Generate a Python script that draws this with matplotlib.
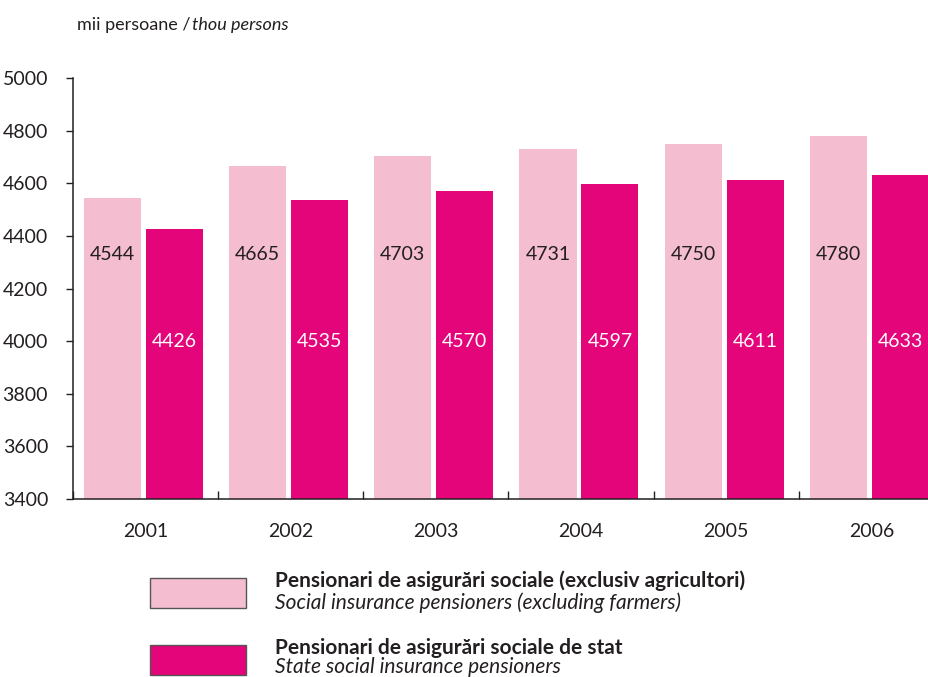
import numpy as np
import matplotlib
matplotlib.use("Agg")
import matplotlib.pyplot as plt
from matplotlib.patches import Rectangle

plt.rcParams['font.family'] = ['Lato', 'DejaVu Sans']

# date
years = ['2001', '2002', '2003', '2004', '2005', '2006']
excl_farmers = [4544, 4665, 4703, 4731, 4750, 4780]
state = [4426, 4535, 4570, 4597, 4611, 4633]

pink = '#F4BED0'
magenta = '#E4057A'
dark = '#231F20'

W, H = 929, 677
fig = plt.figure(figsize=(W / 100, H / 100), dpi=100)
# axa: stanga 73px, jos 499px, sus 78px
ax = fig.add_axes([73 / W, (H - 499) / H, (944 - 73) / W, (499 - 78) / H])

x = np.arange(len(years))
bw = 0.393
ax.bar(x - 0.228, excl_farmers, bw, color=pink)
ax.bar(x + 0.199, state, bw, color=magenta)

fs = 14
for i in range(len(years)):
    ax.text(x[i] - 0.228, 4330, str(excl_farmers[i]), ha='center', va='center',
            fontsize=fs, color=dark)
    ax.text(x[i] + 0.199, 4000, str(state[i]), ha='center', va='center',
            fontsize=fs, color='white')

ax.set_ylim(3400, 5000)
ax.set_xlim(-0.5, 5.5)
ax.set_yticks(np.arange(3400, 5001, 200))
ax.tick_params(axis='y', direction='out', length=5, width=1, color=dark,
               labelsize=fs, labelcolor=dark, pad=13)

# etichete ani + tick-uri intre categorii
ax.set_xticks(np.arange(-0.5, 6, 1))
ax.set_xticklabels([])
ax.tick_params(axis='x', direction='in', length=6, width=1, color=dark)
ax.set_xticks(x, minor=True)
ax.set_xticklabels(years, minor=True)
ax.tick_params(axis='x', which='minor', length=0, labelsize=fs,
               labelcolor=dark, pad=17)

for s in ['top', 'right']:
    ax.spines[s].set_visible(False)
for s in ['left', 'bottom']:
    ax.spines[s].set_color(dark)
    ax.spines[s].set_linewidth(1.1)

t1 = fig.text(77 / W, 1 - 25 / H, 'mii persoane / ', fontsize=13, color=dark,
              va='center', ha='left')
fig.canvas.draw()
bb = t1.get_window_extent()
fig.text((bb.x1 - 3) / W, 1 - 25 / H, 'thou persons', fontsize=13, color=dark,
         va='center', ha='left', style='italic')

# legenda
leg = [
    (pink, 'Pensionari de asigurări sociale (exclusiv agricultori)',
     'Social insurance pensioners (excluding farmers)', 578, 25),
    (magenta, 'Pensionari de asigurări sociale de stat',
     'State social insurance pensioners', 645, 22),
]
for col, ro, en, top, off in leg:
    fig.patches.append(Rectangle((150 / W, 1 - (top + 30) / H), 96 / W, 30 / H,
                                 transform=fig.transFigure, facecolor=col,
                                 edgecolor='#555555', linewidth=1))
    fig.text(275 / W, 1 - (top + 3) / H, ro, fontsize=15, fontweight='bold',
             color=dark, va='center', ha='left')
    fig.text(275 / W, 1 - (top + off) / H, en, fontsize=15, style='italic',
             color=dark, va='center', ha='left')

fig.savefig('out.png', dpi=100)
